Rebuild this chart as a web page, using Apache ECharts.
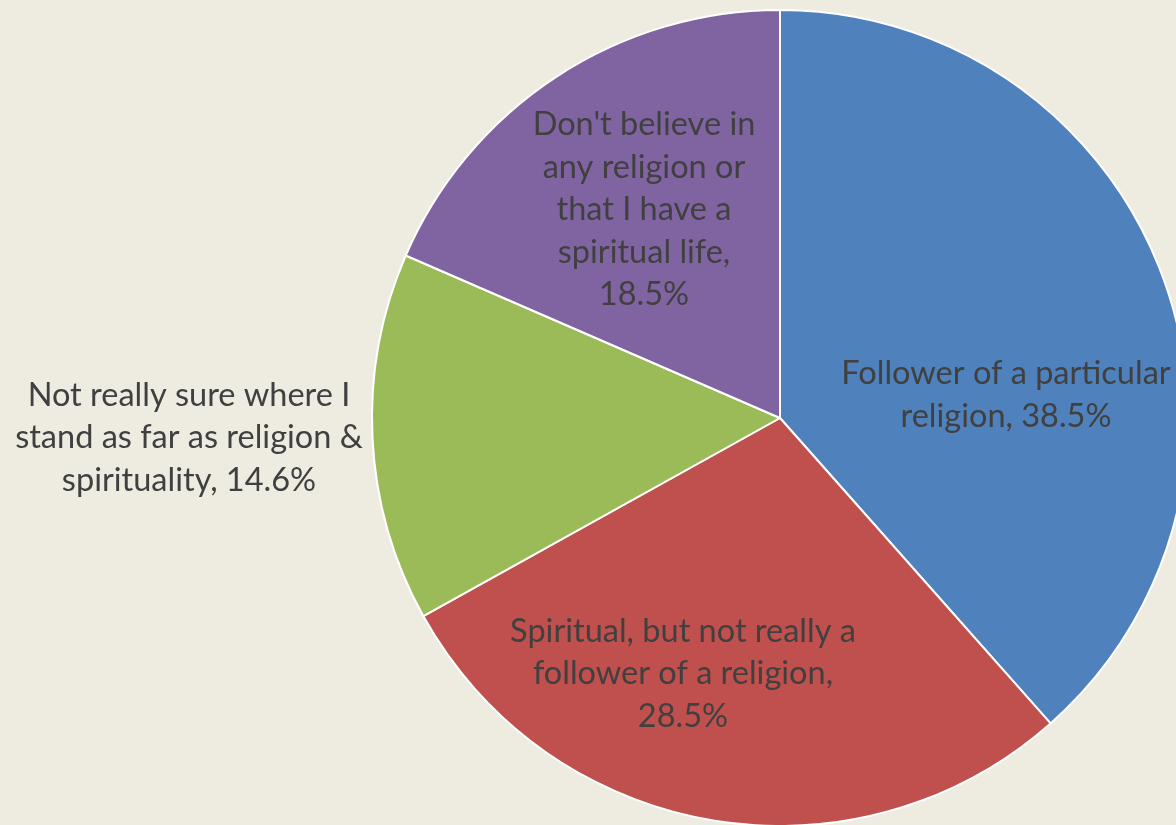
<!DOCTYPE html>
<html>
<head>
<meta charset="utf-8">
<script src="https://cdn.jsdelivr.net/npm/echarts@6/dist/echarts.min.js"></script>
<style>
html,body{margin:0;padding:0;background:#EEECE1;}
#chart{width:1176px;height:825px;}
</style>
</head>
<body>
<div id="chart"></div>
<script>
const categories = [
  "Follower of a particular religion",
  "Spiritual, but not really a follower of a religion",
  "Not really sure where I stand as far as religion & spirituality",
  "Don't believe in any religion or that I have a spiritual life"
];
const values = [38.5, 28.5, 14.6, 18.5];
const labelLines = [
  ["Follower of a particular", "religion, 38.5%"],
  ["Spiritual, but not really a", "follower of a religion,", "28.5%"],
  ["Not really sure where I", "stand as far as religion &", "spirituality, 14.6%"],
  ["Don't believe in", "any religion or", "that I have a", "spiritual life,", "18.5%"]
];
const colors = ["#4F81BD", "#C0504D", "#9BBB59", "#8064A2"];
const labelPos = [[1006, 395], [683, 674], [189, 438], [644, 210]];

const chart = echarts.init(document.getElementById('chart'));
chart.setOption({
  backgroundColor: '#EEECE1',
  animation: false,
  series: [{
    type: 'pie',
    center: [780, 418],
    radius: 408,
    startAngle: 90,
    clockwise: true,
    data: categories.map((c, i) => ({
      name: c,
      value: values[i],
      itemStyle: { color: colors[i] }
    })),
    itemStyle: { borderColor: '#ffffff', borderWidth: 2 },
    label: {
      show: true,
      position: 'inside',
      color: '#404040',
      fontFamily: 'Lato',
      fontSize: 32.5,
      lineHeight: 42.5,
      align: 'center',
      formatter: p => labelLines[p.dataIndex].join('\n')
    },
    labelLine: { show: false },
    labelLayout: p => ({
      x: labelPos[p.dataIndex][0],
      y: labelPos[p.dataIndex][1],
      align: 'center',
      verticalAlign: 'middle'
    }),
    emphasis: { disabled: true }
  }]
});
</script>
</body>
</html>
